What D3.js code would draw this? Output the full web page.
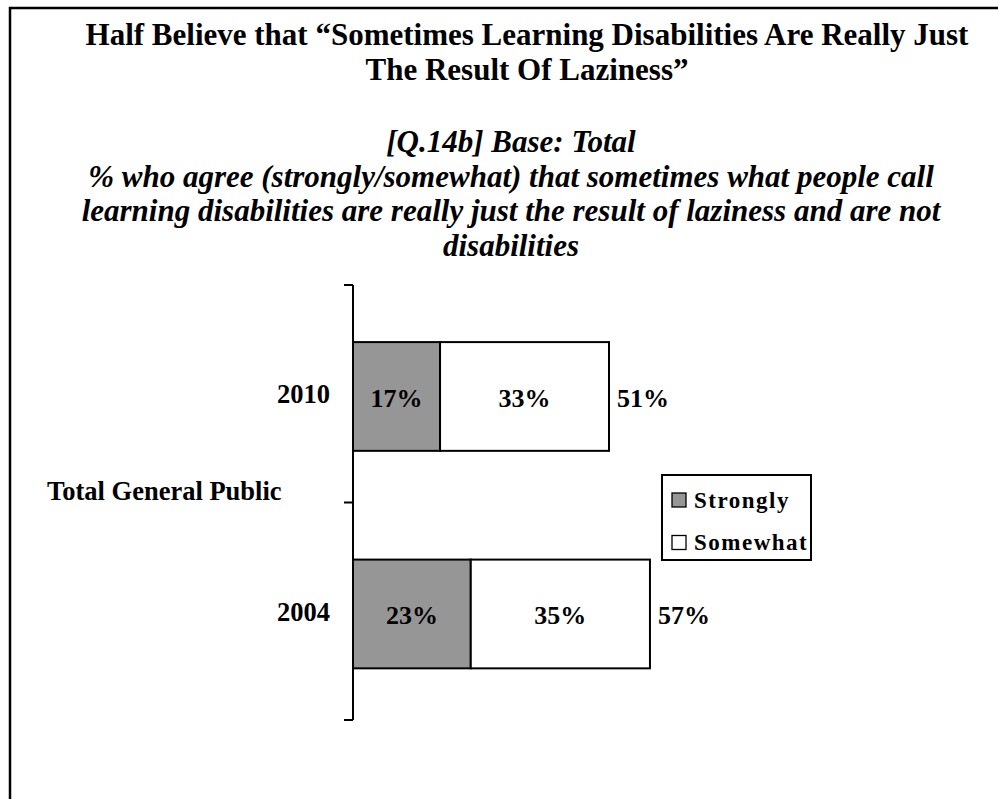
<!DOCTYPE html>
<html>
<head>
<meta charset="utf-8">
<script src="https://cdn.jsdelivr.net/npm/d3@7"></script>
<style>
  html, body { margin: 0; padding: 0; background: #fff; }
  svg { display: block; }
  text { font-family: "Times New Roman", "Liberation Serif", serif; font-weight: bold; fill: #000; }
</style>
</head>
<body>
<svg id="chart" width="998" height="799"></svg>
<script>
// Survey years (top to bottom) and the shared group label
const years = ["2010", "2004"];
const groupLabel = "Total General Public";
// Agreement shares, in percent
const strongly = [17, 23];
const somewhat = [33, 35];
const totals = [51, 57];
const seriesNames = ["Strongly", "Somewhat"];

const titleLines = [
  "Half Believe that \u201CSometimes Learning Disabilities Are Really Just",
  "The Result Of Laziness\u201D"
];
const subtitleLines = [
  "[Q.14b] Base: Total",
  "% who agree (strongly/somewhat) that sometimes what people call",
  "learning disabilities are really just the result of laziness and are not",
  "disabilities"
];

const svg = d3.select("#chart");
const W = 998, H = 799;

// Frame around the slide
svg.append("path")
  .attr("d", `M10,${H + 5} L10,8 L${W + 5},8`)
  .attr("fill", "none").attr("stroke", "#000").attr("stroke-width", 2.5);

// Title
svg.append("g").selectAll("text").data(titleLines).join("text")
  .attr("x", 527).attr("y", (d, i) => 45 + i * 35)
  .attr("text-anchor", "middle").attr("font-size", 31)
  .text(d => d);

// Subtitle
svg.append("g").selectAll("text").data(subtitleLines).join("text")
  .attr("x", 511).attr("y", (d, i) => 152 + i * 34.5)
  .attr("text-anchor", "middle").attr("font-size", 31).attr("font-style", "italic")
  .text(d => d);

// Scales
const x = d3.scaleLinear().domain([0, 100]).range([353, 865]);
const y = d3.scaleBand().domain(years).range([285, 720])
  .paddingInner(0.5).paddingOuter(0.25).align(0.525);
const axisTop = 285, axisBottom = 720;

// Category axis with outward ticks on the category boundaries
const axisG = svg.append("g");
axisG.append("line")
  .attr("x1", x(0)).attr("x2", x(0)).attr("y1", axisTop).attr("y2", axisBottom)
  .attr("stroke", "#000").attr("stroke-width", 2);
const boundaries = [axisTop, (axisTop + axisBottom) / 2, axisBottom];
axisG.selectAll("line.tick").data(boundaries).join("line").attr("class", "tick")
  .attr("x1", x(0) - 9).attr("x2", x(0)).attr("y1", d => d).attr("y2", d => d)
  .attr("stroke", "#000").attr("stroke-width", 2);

const catStep = (axisBottom - axisTop) / years.length;
axisG.selectAll("text.year").data(years).join("text").attr("class", "year")
  .attr("x", 330).attr("y", (d, i) => axisTop + catStep * (i + 0.5) + 9.5)
  .attr("text-anchor", "end").attr("font-size", 26.5)
  .text(d => d);

axisG.append("text")
  .attr("x", 47).attr("y", boundaries[1] - 3)
  .attr("font-size", 26.5).text(groupLabel);

// Stacked bars
const rows = years.map((yr, i) => ({ year: yr, strongly: strongly[i], somewhat: somewhat[i], total: totals[i] }));
const stack = d3.stack().keys(["strongly", "somewhat"])(rows);
const fills = { strongly: "#969696", somewhat: "#ffffff" };

const layers = svg.append("g").selectAll("g").data(stack).join("g")
  .attr("fill", d => fills[d.key]);
layers.selectAll("rect").data(d => d).join("rect")
  .attr("x", d => x(d[0])).attr("width", d => x(d[1]) - x(d[0]))
  .attr("y", d => y(d.data.year)).attr("height", y.bandwidth())
  .attr("stroke", "#000").attr("stroke-width", 2);

layers.selectAll("text").data(d => d.map(s => Object.assign(s, { key: d.key }))).join("text")
  .attr("x", d => (x(d[0]) + x(d[1])) / 2)
  .attr("y", d => y(d.data.year) + y.bandwidth() / 2 + 10.5)
  .attr("text-anchor", "middle").attr("font-size", 26).attr("fill", "#000")
  .text(d => d.data[d.key] + "%");

// Net totals beside each bar
svg.append("g").selectAll("text").data(rows).join("text")
  .attr("x", d => x(d.strongly + d.somewhat) + 8)
  .attr("y", d => y(d.year) + y.bandwidth() / 2 + 10.5)
  .attr("font-size", 26)
  .text(d => d.total + "%");

// Legend
const lg = svg.append("g").attr("transform", "translate(662,475)");
lg.append("rect").attr("width", 149).attr("height", 85)
  .attr("fill", "#fff").attr("stroke", "#000").attr("stroke-width", 2);
const li = lg.selectAll("g").data(seriesNames).join("g")
  .attr("transform", (d, i) => `translate(10,${18 + i * 42.5})`);
li.append("rect").attr("width", 14).attr("height", 14)
  .attr("fill", (d, i) => i === 0 ? fills.strongly : fills.somewhat)
  .attr("stroke", "#000").attr("stroke-width", 1.3);
li.append("text").attr("x", 22).attr("y", 14.5)
  .attr("font-size", 23).attr("letter-spacing", 1.5)
  .text(d => d);
</script>
</body>
</html>
